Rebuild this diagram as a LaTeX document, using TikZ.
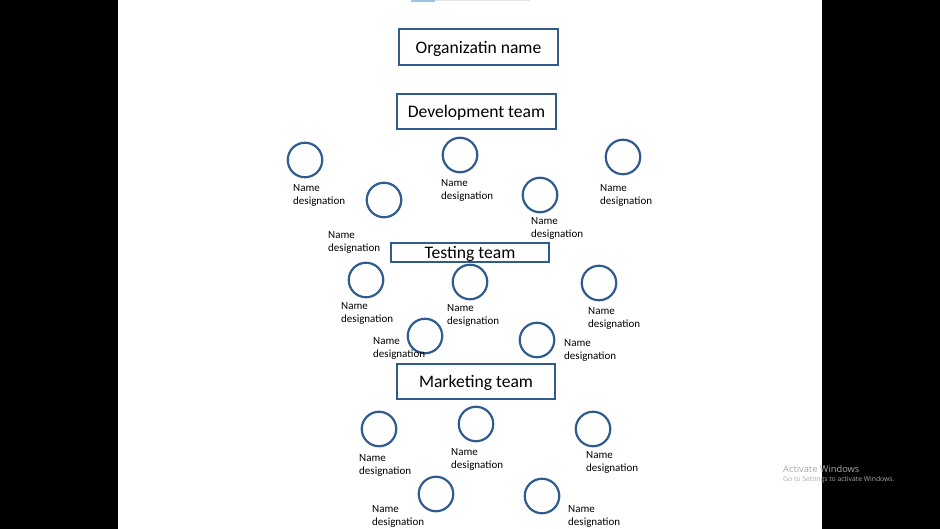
\documentclass[tikz,border=0pt]{standalone}
\usepackage{fontspec}
\setmainfont{Carlito}
\newfontfamily\wmfont{Open Sans}
\definecolor{outl}{HTML}{2F5B8F}
\definecolor{wmgray}{HTML}{ABABAB}
\definecolor{barblue}{HTML}{9DC3E6}
\definecolor{bargray}{HTML}{E4E4E4}
\begin{document}
\begin{tikzpicture}[x=1pt,y=-1pt,
  teambox/.style={draw=outl,line width=1.8pt,inner sep=0,text height=15pt,text depth=2pt,font=\fontsize{17.6}{20}\selectfont},
  member/.style={circle,draw=outl,line width=2.2pt,minimum size=34.5pt,inner sep=0},
  lbl/.style={font=\fontsize{11}{13}\selectfont,align=left,anchor=west,inner sep=0}]
\useasboundingbox (0,0) rectangle (940,529);
\fill[black] (0,0) rectangle (118,529);
\fill[black] (822,0) rectangle (940,529);
\fill[white] (118,0) rectangle (822,529);
\fill[bargray] (435,0) rectangle (530,1);
\fill[barblue] (411,0) rectangle (435,2);
% team boxes
\node[teambox,minimum width=159pt,minimum height=36pt] (org) at (478.5,47) {Organizatin name};
\node[teambox,minimum width=159pt,minimum height=35pt] (dev) at (476.5,111.5) {Development team};
\node[teambox,minimum width=158pt,minimum height=19pt] (test) at (470,252.5) {Testing team};
\node[teambox,minimum width=158pt,minimum height=35pt] (mkt) at (476,381.5) {Marketing team};
% development members
\node[member] (d1) at (305,160) {};
\node[member] (d2) at (384,200) {};
\node[member] (d3) at (460,155) {};
\node[member] (d4) at (540,195) {};
\node[member] (d5) at (623,157) {};
% testing members
\node[member] (t1) at (366,280) {};
\node[member] (t2) at (470,282) {};
\node[member] (t3) at (599,283) {};
\node[member] (t4) at (425,336) {};
\node[member] (t5) at (537,340) {};
% marketing members
\node[member] (m1) at (379,429) {};
\node[member] (m2) at (476,424) {};
\node[member] (m3) at (593,429) {};
\node[member] (m4) at (436,494) {};
\node[member] (m5) at (542,496) {};
% labels
\node[lbl] (ld1) at (293,195) {Name\\designation};
\node[lbl] (ld2) at (328,242) {Name\\designation};
\node[lbl] (ld3) at (441,190.5) {Name\\designation};
\node[lbl] (ld4) at (531,228) {Name\\designation};
\node[lbl] (ld5) at (600,195) {Name\\designation};
\node[lbl] (lt1) at (341,313.5) {Name\\designation};
\node[lbl] (lt2) at (447,315.5) {Name\\designation};
\node[lbl] (lt3) at (588,318) {Name\\designation};
\node[lbl] (lt4) at (373,348.5) {Name\\designation};
\node[lbl] (lt5) at (564,350) {Name\\designation};
\node[lbl] (lm1) at (359,465) {Name\\designation};
\node[lbl] (lm2) at (451,459.5) {Name\\designation};
\node[lbl] (lm3) at (586,462) {Name\\designation};
\node[lbl] (lm4) at (372,516) {Name\\designation};
\node[lbl] (lm5) at (568,516) {Name\\designation};
% watermark
\node[anchor=west,inner sep=0,text=wmgray,font=\wmfont\fontsize{9.3}{11}\selectfont] (wm1) at (783,469) {Activate Windows};
\node[anchor=west,inner sep=0,text=wmgray,font=\wmfont\fontsize{6.8}{8}\selectfont] (wm2) at (783,480) {Go to Settings to activate Windows.};
\end{tikzpicture}
\end{document}
